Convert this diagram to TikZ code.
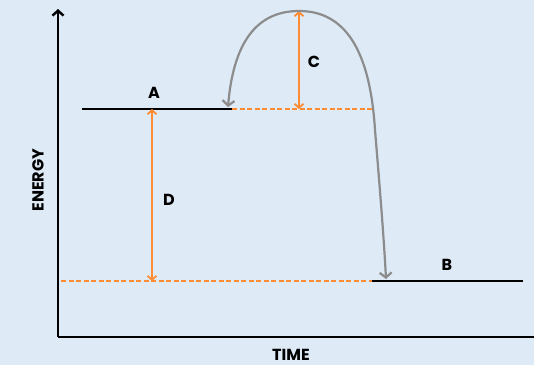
\documentclass[tikz,border=0pt]{standalone}
\usepackage{fontspec}
\setmainfont{Poppins}
\usetikzlibrary{arrows.meta, positioning}
\definecolor{bgblue}{RGB}{222,234,246}
\definecolor{gaporange}{RGB}{255,140,50}
\definecolor{jumpgray}{RGB}{140,140,140}
\tikzset{
    axis line/.style = {draw, line width=2.4pt, -{Straight Barb[length=5pt,width=11pt]}},
    level line/.style = {draw, line width=2pt},
    level dash/.style = {draw=gaporange, line width=1.8pt, dash pattern=on 5pt off 2.5pt},
    gap arrow/.style = {draw=gaporange, line width=1.8pt, {Straight Barb[length=4pt,width=9pt]}-{Straight Barb[length=4pt,width=9pt]}},
    jump arrow/.style = {draw=jumpgray, line width=2.2pt, -{Straight Barb[length=5pt,width=12pt]}},
    lbl/.style = {font=\fontsize{16}{16}\selectfont\bfseries, inner sep=0pt},
}

\begin{document}
\begin{tikzpicture}[x=1pt, y=-1pt]
            \useasboundingbox[fill=bgblue] (0,0) rectangle (534,365);

            \coordinate (origin) at (58, 337);
            \coordinate (ytop) at (58, 9);
            \coordinate (xend) at (534, 337);

            \coordinate (a start) at (82, 109);
            \coordinate (a end) at (232, 109);
            \coordinate (top dash) at (372, 109);
            \coordinate (b start) at (372, 281);
            \coordinate (b end) at (523, 281);
            \coordinate (low dash) at (61, 281);
            \coordinate (peak) at (299, 11);
            \coordinate (c foot) at (299, 109);
            \coordinate (d top) at (152, 109);
            \coordinate (d foot) at (152, 281);
            \coordinate (land a) at (228, 107);
            \coordinate (land b) at (386, 279);

            \node[lbl] (a) at (154, 93) {A};
            \node[lbl] (b) at (447, 265) {B};
            \node[lbl] (c) at (314, 62) {C};
            \node[lbl] (d) at (169, 200) {D};
            \node[lbl, rotate=90] (energy) at (38, 180) {ENERGY};
            \node[lbl] (time) at (291, 355) {TIME};

            \draw[axis line] (origin) -- (ytop);
            \draw[line width=2.4pt] (origin) -- (xend);

            \draw[level dash] (a end) -- (top dash);
            \draw[level dash] (low dash) -- (b start);
            \draw[level line] (a start) -- (a end);
            \draw[level line] (b start) -- (b end);

            \draw[gap arrow] (d top) -- (d foot);
            \draw[gap arrow] (peak) -- (c foot);

            \draw[jump arrow] (peak) .. controls (262, 11) and (234, 35) .. (land a);
            \draw[jump arrow] (peak) .. controls (345, 11) and (370, 50) .. (375, 130)
                .. controls (380, 190) and (384, 240) .. (land b);
        \end{tikzpicture}
\end{document}
